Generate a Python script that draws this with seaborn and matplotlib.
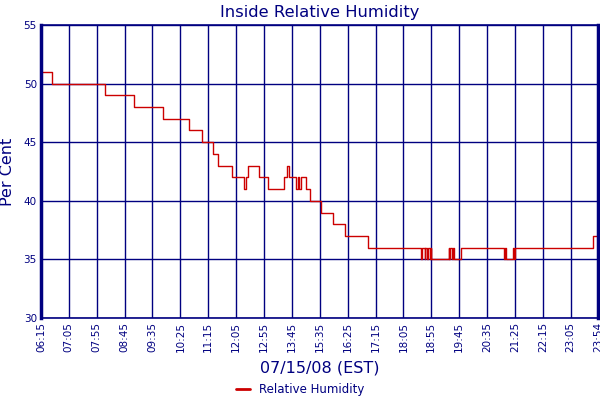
import matplotlib
matplotlib.use("Agg")
import matplotlib.pyplot as plt
import pandas as pd
import seaborn as sns

# x axis is chart position in minutes since 06:15, with the data gap
# (13:45 -> 15:35) squeezed out, so every tick is 50 positions apart
tick_labels = ['06:15', '07:05', '07:55', '08:45', '09:35', '10:25', '11:15',
               '12:05', '12:55', '13:45', '15:35', '16:25', '17:15', '18:05',
               '18:55', '19:45', '20:35', '21:25', '22:15', '23:05', '23:54']
tick_pos = [0, 50, 100, 150, 200, 250, 300, 350, 400, 450, 500, 550, 600,
            650, 700, 750, 800, 850, 900, 950, 999]

# step change points of the humidity reading
change_pos = [0, 20, 115, 166, 218, 265, 289, 308, 317, 343, 364, 368, 372,
              391, 407, 436, 442, 445, 458, 461, 463, 466, 475, 483, 502,
              523, 545, 586,
              682, 683, 688, 689, 692, 694, 697, 699, 700,
              731, 732, 734, 737, 739, 741, 753,
              831, 833, 834, 847, 848, 850, 990, 999]
humidity = [51, 50, 49, 48, 47, 46, 45, 44, 43, 42, 41, 42, 43,
            42, 41, 42, 43, 42, 41, 42, 41, 42, 41, 40, 39,
            38, 37, 36,
            35, 36, 35, 36, 35, 36, 35, 36, 35,
            36, 35, 36, 35, 36, 35, 36,
            35, 36, 35, 36, 35, 36, 37, 37]

navy = '#000080'
red = '#CC0000'

df = pd.DataFrame({'pos': change_pos, 'Relative Humidity': humidity})

sns.set_style('white')
plt.rcParams['font.family'] = ['DejaVu Sans']

fig = plt.figure(figsize=(6, 4), dpi=100)
ax = fig.add_axes([0.0683, 0.205, 0.9284, 0.7325])

sns.lineplot(data=df, x='pos', y='Relative Humidity', ax=ax, color=red,
             linewidth=1.0, drawstyle='steps-post', sort=False,
             label='Relative Humidity', legend=False)

ax.set_xlim(0, 999)
ax.set_ylim(30, 55)
ax.set_xticks(tick_pos)
ax.set_xticklabels(tick_labels, rotation=90, fontsize=7.5, color=navy)
ax.set_yticks([30, 35, 40, 45, 50, 55])
ax.set_yticklabels(['30', '35', '40', '45', '50', '55'], fontsize=7.5, color=navy)
ax.tick_params(length=0, pad=3)
ax.grid(True, color=navy, linewidth=1.0)
ax.set_axisbelow(True)

for side in ['left', 'right']:
    ax.spines[side].set_color(navy)
    ax.spines[side].set_linewidth(2.5)
for side in ['top', 'bottom']:
    ax.spines[side].set_color(navy)
    ax.spines[side].set_linewidth(1.2)

ax.set_title('Inside Relative Humidity', fontsize=11.8, color=navy, pad=6)
ax.set_xlabel('07/15/08 (EST)', fontsize=11.5, color=navy, labelpad=6)
ax.set_ylabel('Per Cent', fontsize=11.5, color=navy, labelpad=6)

handles, labels = ax.get_legend_handles_labels()
leg = fig.legend(handles, labels, loc='center', bbox_to_anchor=(0.5, 0.025),
                 frameon=False, fontsize=8.5, handlelength=1.2)
for t in leg.get_texts():
    t.set_color(navy)
for h in leg.legend_handles:
    h.set_linewidth(2)

fig.savefig('out.png', dpi=100)
